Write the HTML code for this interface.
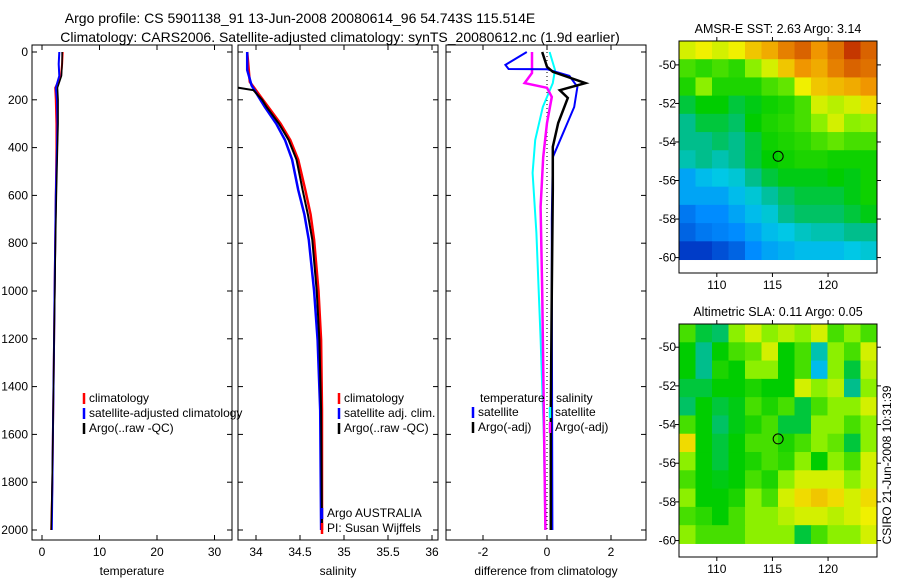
<!DOCTYPE html>
<html><head><meta charset="utf-8"><style>
body{margin:0;background:#fff;width:900px;height:580px;overflow:hidden}
svg text{font-family:"Liberation Sans",sans-serif;font-size:12px;fill:#000}
svg text.big{font-size:14px}
svg text.mt{font-size:12.5px}
</style></head><body>
<svg id="chart" width="900" height="580" xmlns="http://www.w3.org/2000/svg">
<defs>
<clipPath id="c1"><rect x="32" y="45" width="200" height="495"/></clipPath>
<clipPath id="c2"><rect x="238" y="45" width="200" height="495"/></clipPath>
<clipPath id="c3"><rect x="446" y="45" width="200" height="495"/></clipPath>
</defs>
<text class="big" x="300" y="23" text-anchor="middle">Argo profile: CS 5901138_91 13-Jun-2008 20080614_96 54.743S 115.514E</text>
<text class="big" x="340" y="42" text-anchor="middle">Climatology: CARS2006. Satellite-adjusted climatology: synTS_20080612.nc (1.9d earlier)</text>
<g id="g"></g>
</svg>
<script>
// ---- profile data ----
const tDepth=[0,50,100,150,200,300,400,600,800,1000,1200,1400,1600,1800,2000];
const tClim=[3.6,3.5,3.3,2.3,2.4,2.5,2.5,2.4,2.3,2.2,2.1,2.0,1.9,1.8,1.6];
const tSat=[3.0,2.9,3.0,2.4,2.6,2.7,2.6,2.4,2.3,2.2,2.1,2.0,1.9,1.8,1.7];
const tArgo=[3.5,3.5,3.4,2.7,2.8,2.8,2.7,2.5,2.35,2.25,2.1,2.0,1.9,1.75,1.6];
const sDepthClim=[0,125,160,200,230,300,368,450,577,680,786,1000,1205,1500,2000];
const sClim=[33.9,33.93,34.0,34.08,34.14,34.28,34.39,34.48,34.56,34.62,34.66,34.71,34.74,34.75,34.75];
const sDepthSat=[0,75,140,200,230,300,368,450,577,680,786,1000,1205,1500,2000];
const sSat=[33.9,33.9,33.95,34.05,34.1,34.23,34.33,34.41,34.48,34.55,34.6,34.66,34.7,34.73,34.74];
const sDepthArgo=[0,140,150,160,200,230,300,368,450,577,680,786,1000,1205,1500,2000];
const sArgo=[33.6,33.6,33.8,33.97,34.07,34.12,34.26,34.37,34.46,34.53,34.59,34.64,34.69,34.72,34.74,34.75];
const dDepthBlue=[0,54,71,72,100,146,230,340,440,700,1000,1500,2000];
const dBlue=[-0.63,-1.3,-1.2,0.0,0.7,0.95,0.85,0.5,0.18,0.15,0.15,0.16,0.17];
const dDepthBlack=[0,62,83,130,160,192,297,397,577,1000,1500,2000];
const dBlack=[-0.15,0,0.18,1.2,0.4,0.65,0.35,0.18,0.18,0.15,0.12,0.12];
const dDepthMag=[0,88,130,150,188,297,440,648,1000,1500,2000];
const dMag=[-0.47,-0.47,-0.7,0,0.15,0,-0.12,-0.2,-0.15,-0.1,-0.05];
const dDepthCyan=[0,75,130,230,368,506,757,1200,1600,2000];
const dCyan=[0.08,0.25,0.18,-0.13,-0.37,-0.45,-0.33,-0.2,-0.1,-0.05];
const depthTicks=[0,200,400,600,800,1000,1200,1400,1600,1800,2000];
const tTicks=[0,10,20,30];
const sTicks=[34,34.5,35,35.5,36];
const dTicks=[-2,0,2];
// ---- map data (rows top->bottom, cols west->east) ----
const sstGrid=[
[0.6,0.62,0.6,0.62,0.68,0.72,0.78,0.82,0.75,0.8,0.88,0.82],
[0.5,0.48,0.5,0.48,0.55,0.6,0.68,0.75,0.72,0.78,0.82,0.8],
[0.47,0.55,0.47,0.47,0.47,0.5,0.52,0.62,0.68,0.7,0.72,0.75],
[0.42,0.45,0.45,0.42,0.44,0.46,0.47,0.5,0.6,0.58,0.6,0.65],
[0.38,0.42,0.42,0.4,0.45,0.47,0.48,0.5,0.55,0.6,0.55,0.56],
[0.38,0.38,0.4,0.38,0.42,0.46,0.47,0.48,0.5,0.52,0.5,0.5],
[0.36,0.38,0.36,0.38,0.42,0.45,0.46,0.47,0.47,0.46,0.46,0.46],
[0.3,0.32,0.33,0.34,0.38,0.42,0.44,0.44,0.44,0.45,0.44,0.46],
[0.3,0.3,0.3,0.32,0.34,0.37,0.4,0.42,0.42,0.42,0.44,0.46],
[0.26,0.28,0.28,0.3,0.32,0.34,0.38,0.4,0.4,0.4,0.42,0.44],
[0.24,0.26,0.27,0.28,0.3,0.32,0.33,0.35,0.36,0.36,0.38,0.38],
[0.2,0.2,0.22,0.24,0.28,0.3,0.31,0.32,0.32,0.32,0.33,0.34]];
const slaGrid=[
[0.5,0.42,0.4,0.55,0.6,0.55,0.58,0.55,0.6,0.5,0.55,0.5],
[0.45,0.38,0.45,0.5,0.52,0.6,0.45,0.5,0.36,0.55,0.5,0.6],
[0.45,0.38,0.47,0.45,0.55,0.55,0.45,0.5,0.32,0.55,0.42,0.58],
[0.42,0.42,0.45,0.45,0.47,0.45,0.45,0.6,0.55,0.58,0.38,0.55],
[0.4,0.45,0.42,0.44,0.5,0.47,0.5,0.42,0.5,0.55,0.55,0.6],
[0.5,0.45,0.4,0.44,0.47,0.5,0.42,0.42,0.55,0.55,0.5,0.55],
[0.65,0.45,0.42,0.45,0.5,0.5,0.47,0.5,0.55,0.52,0.42,0.55],
[0.55,0.45,0.42,0.45,0.47,0.5,0.48,0.55,0.45,0.55,0.5,0.6],
[0.5,0.45,0.44,0.45,0.5,0.47,0.55,0.6,0.6,0.6,0.55,0.6],
[0.55,0.45,0.45,0.47,0.55,0.5,0.6,0.65,0.68,0.65,0.6,0.65],
[0.5,0.48,0.45,0.5,0.55,0.55,0.58,0.6,0.6,0.58,0.6,0.62],
[0.55,0.5,0.5,0.5,0.55,0.55,0.55,0.42,0.5,0.55,0.55,0.6]];
const lonTicks=[110,115,120];
const latTicks=[-50,-52,-54,-56,-58,-60];
const argoLon=115.514, argoLat=-54.743;

const NS="http://www.w3.org/2000/svg";
const G=document.getElementById('g');
function mk(tag,attrs,parent){const e=document.createElementNS(NS,tag);for(const k in attrs)e.setAttribute(k,attrs[k]);(parent||G).appendChild(e);return e;}
function txt(x,y,s,anchor,name){const t=mk('text',{x:x,y:y,'text-anchor':anchor||'start'});t.textContent=s;

return t;}

const yD=d=>52+d*0.239;
const panels=[
 {x0:32,clip:'c1',xs:v=>42+v*5.75,ticks:tTicks,label:'temperature',name:'temperature-panel'},
 {x0:238,clip:'c2',xs:v=>256+(v-34)*88,ticks:sTicks,label:'salinity',name:'salinity-panel'},
 {x0:446,clip:'c3',xs:v=>547+v*32,ticks:dTicks,label:'difference from climatology',name:'difference-panel'}];
panels.forEach((p,i)=>{
 const r=mk('rect',{x:p.x0,y:45,width:200,height:495,fill:'none',stroke:'#000'});
 
 
 p.ticks.forEach(v=>{const x=p.xs(v);mk('line',{x1:x,x2:x,y1:540,y2:535,stroke:'#000'});mk('line',{x1:x,x2:x,y1:45,y2:50,stroke:'#000'});
  txt(x,556,String(v),'middle','x-tick-label');});
 depthTicks.forEach(d=>{const y=yD(d);mk('line',{x1:p.x0,x2:p.x0+5,y1:y,y2:y,stroke:'#000'});mk('line',{x1:p.x0+200,x2:p.x0+195,y1:y,y2:y,stroke:'#000'});
  if(i==0)txt(28,y+4,String(d),'end','y-tick-label');});
 txt(p.x0+100,575,p.label,'middle','x-axis-title');
});
function line(P,ds,vs,col,w,name,dash){
 const pts=ds.map((d,i)=>P.xs(vs[i]).toFixed(1)+','+yD(d).toFixed(1)).join(' ');
 const a={points:pts,fill:'none',stroke:col,'stroke-width':w,'clip-path':'url(#'+P.clip+')'};
 if(dash)a['stroke-dasharray']=dash;
 const e=mk('polyline',a);
 
 
}
line(panels[0],tDepth,tClim,'#f00',2,'temp-climatology-line');
line(panels[0],tDepth,tSat,'#00f',2,'temp-satellite-line');
line(panels[0],tDepth,tArgo,'#000',1.5,'temp-argo-line');
line(panels[1],sDepthClim,sClim,'#f00',2.5,'sal-climatology-line');
line(panels[1],sDepthSat,sSat,'#00f',2.5,'sal-satellite-line');
line(panels[1],sDepthArgo,sArgo,'#000',2,'sal-argo-line');
line(panels[2],[0,2000],[0,0],'#000',1,'zero-line','1,3');
line(panels[2],dDepthCyan,dCyan,'#0ff',2,'diff-sal-satellite-line');
line(panels[2],dDepthMag,dMag,'#f0f',2.5,'diff-sal-argo-line');
line(panels[2],dDepthBlue,dBlue,'#00f',2,'diff-temp-satellite-line');
line(panels[2],dDepthBlack,dBlack,'#000',2.5,'diff-temp-argo-line');

function legend(x,y,items){items.forEach((it,i)=>{const yy=y+i*15;
 const l=mk('line',{x1:x,x2:x,y1:yy-9,y2:yy+2,stroke:it[1],'stroke-width':2.5});
 
 
 txt(x+5,yy,it[0],'start','legend-entry');});}
legend(84,402,[['climatology','#f00'],['satellite-adjusted climatology','#00f'],['Argo(..raw -QC)','#000']]);
legend(339,402,[['climatology','#f00'],['satellite adj. clim.','#00f'],['Argo(..raw -QC)','#000']]);
legend(473,416,[['satellite','#00f'],['Argo(-adj)','#000']]);
txt(480,402,'temperature','start','legend-header');
legend(550,416,[['satellite','#0ff'],['Argo(-adj)','#f0f']]);
txt(556,402,'salinity','start','legend-header');
legend(322,517,[['Argo AUSTRALIA','#00f'],['PI: Susan Wijffels','#f00']]);

// ---- maps ----
const stops=[[0.2,[0,60,200]],[0.28,[0,140,255]],[0.33,[0,200,230]],[0.38,[0,190,140]],[0.45,[0,205,0]],[0.55,[140,240,0]],[0.62,[240,240,0]],[0.75,[240,150,0]],[0.9,[190,40,0]]];
function cmap(v){if(v<=stops[0][0])return 'rgb('+stops[0][1]+')';
 for(let i=1;i<stops.length;i++){if(v<=stops[i][0]){const a=stops[i-1],b=stops[i],t=(v-a[0])/(b[0]-a[0]);
  return 'rgb('+a[1].map((c,k)=>Math.round(c+(b[1][k]-c)*t)).join(',')+')';}}
 return 'rgb('+stops[stops.length-1][1]+')';}
function map(grid,top,bot,latTop,latBot,dataBot,title,name){
 const x0=679,x1=877,lonL=106.6,lonR=124.4;
 const xs=l=>x0+(l-lonL)/(lonR-lonL)*(x1-x0);
 const ys=la=>top+(la-latTop)/(latBot-latTop)*(bot-top);
 const nr=grid.length,nc=grid[0].length,la0=latTop,la1=dataBot;
 grid.forEach((row,r)=>row.forEach((v,c)=>{
  const lA=lonL+(lonR-lonL)*c/nc,lB=lonL+(lonR-lonL)*(c+1)/nc;
  const aA=la0+(la1-la0)*r/nr,aB=la0+(la1-la0)*(r+1)/nr;
  const e=mk('rect',{x:xs(lA),y:ys(aA),width:xs(lB)-xs(lA)+0.5,height:ys(aB)-ys(aA)+0.5,fill:cmap(v)});
  
  
 }));
 const f=mk('rect',{x:x0,y:top,width:x1-x0,height:bot-top,fill:'none',stroke:'#000'});
 
 
 lonTicks.forEach(l=>{const x=xs(l);mk('line',{x1:x,x2:x,y1:bot,y2:bot+4,stroke:'#000'});mk('line',{x1:x,x2:x,y1:top,y2:top-4,stroke:'#000'});
  txt(x,bot+16,String(l),'middle','map-x-tick-label');});
 latTicks.forEach(la=>{const y=ys(la);mk('line',{x1:x0,x2:x0-4,y1:y,y2:y,stroke:'#000'});mk('line',{x1:x1,x2:x1+4,y1:y,y2:y,stroke:'#000'});
  txt(x0-3,y+4,String(la),'end','map-y-tick-label');});
 const c=mk('circle',{cx:xs(argoLon),cy:ys(argoLat),r:5,fill:'none',stroke:'#000'});
 
 
 const t=txt((x0+x1)/2,top-8,title,'middle','map-title');
 t.setAttribute('class','mt');
}
map(sstGrid,41,273,-48.76,-60.8,-60.1,'AMSR-E SST: 2.63 Argo: 3.14','sst-map');
map(slaGrid,324,557,-48.8,-60.85,-60.15,'Altimetric SLA: 0.11 Argo: 0.05','sla-map');
const v=txt(0,0,'CSIRO 21-Jun-2008 10:31:39','middle','timestamp-label');
v.setAttribute('transform','translate(891,465) rotate(-90)');
</script>
</body></html>
